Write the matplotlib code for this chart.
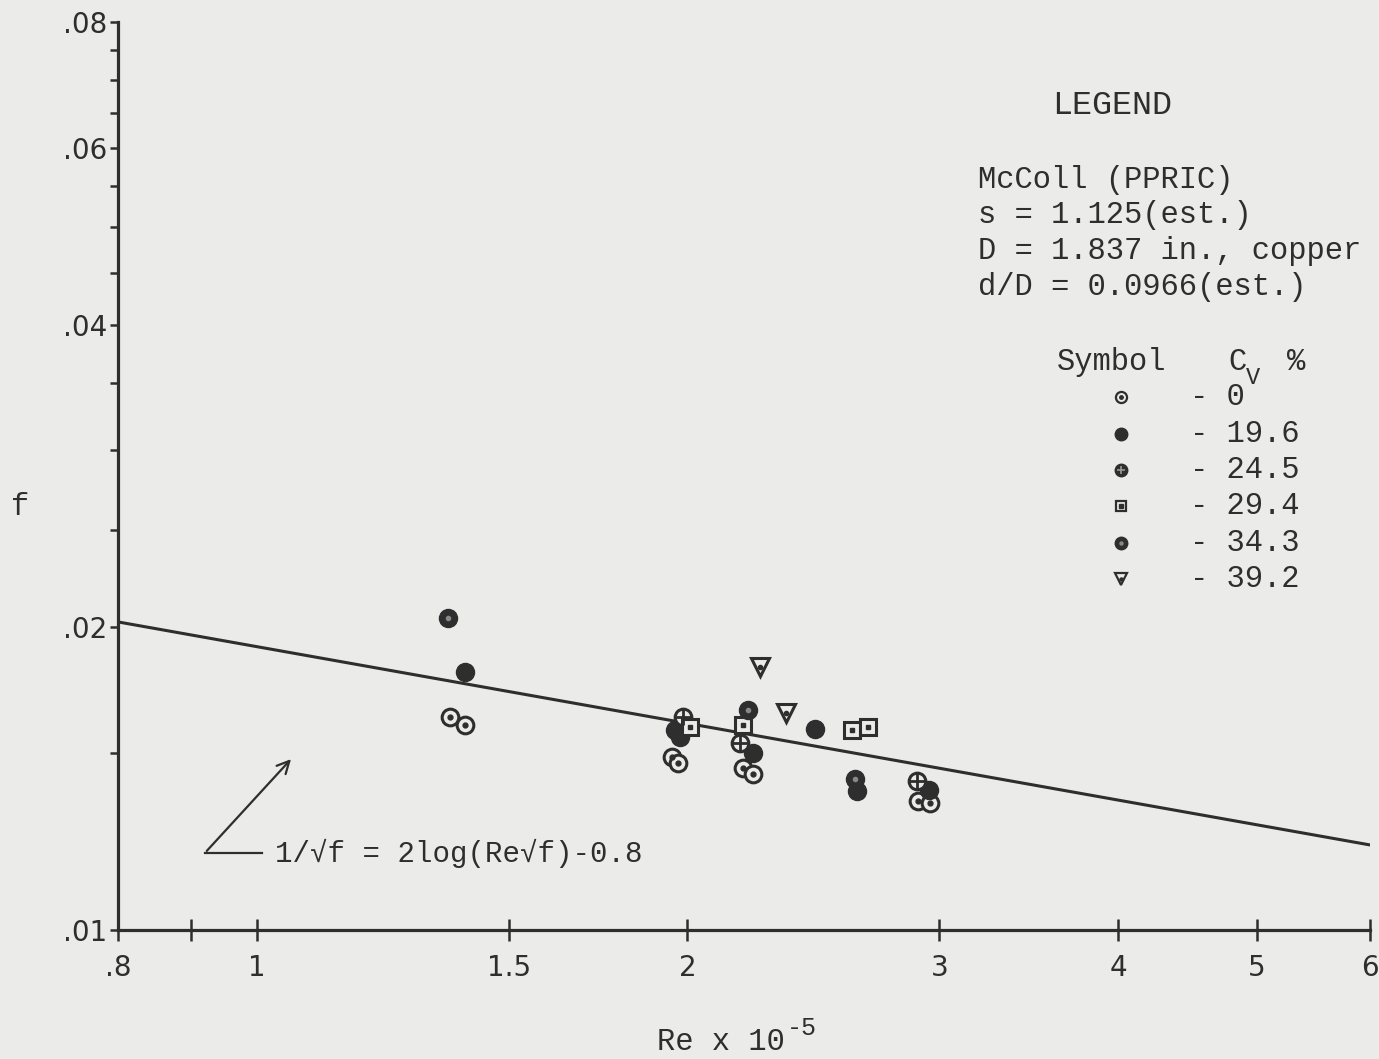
import matplotlib.pyplot as plt
from matplotlib.ticker import NullLocator

# Re x 10^-5 and f, one pair of lists per Cv %
re_0 = [1.365, 1.398, 1.951, 1.970, 2.188, 2.223, 2.899, 2.955]
f_0 = [0.01629, 0.01600, 0.01486, 0.01466, 0.01449, 0.01430, 0.01344, 0.01338]
re_196 = [1.398, 1.961, 1.977, 2.223, 2.456, 2.627, 2.950]
f_196 = [0.01806, 0.01581, 0.01556, 0.01500, 0.01585, 0.01375, 0.01378]
re_245 = [1.986, 2.177, 2.893]
f_245 = [0.01629, 0.01535, 0.01407]
re_294 = [2.009, 2.188, 2.606, 2.674]
f_294 = [0.01592, 0.01600, 0.01581, 0.01592]
re_343 = [1.360, 2.206, 2.619]
f_343 = [0.02044, 0.01656, 0.01413]
re_392 = [2.248, 2.344]
f_392 = [0.01826, 0.01644]

# correlation line 1/sqrt(f) = 2log(Re sqrt(f)) - 0.8
line_re = [0.8, 6.0]
line_f = [0.02025, 0.01215]

xticks = [0.8, 0.9, 1, 1.5, 2, 3, 4, 5, 6]
xlabels = ['.8', '', '1', '1.5', '2', '3', '4', '5', '6']
yticks = [0.01, 0.015, 0.02, 0.025, 0.03, 0.035, 0.04, 0.045, 0.05,
          0.055, 0.06, 0.065, 0.07, 0.075, 0.08]
ylabels = ['.01', '', '.02', '', '', '', '.04', '', '', '', '.06', '', '', '', '.08']

cv_labels = ['0', '19.6', '24.5', '29.4', '34.3', '39.2']

ink = '#2e2e2e'
bg = '#ebebea'
mono = ['Liberation Mono', 'DejaVu Sans Mono']

fig = plt.figure(figsize=(13.79, 10.59), dpi=100, facecolor=bg)
ax = fig.add_axes([0.0856, 0.1218, 0.9080, 0.8574])
ax.set_facecolor(bg)
ax.set_xscale('log')
ax.set_yscale('log')
ax.set_xlim(0.8, 6)
ax.set_ylim(0.01, 0.08)

for s in ['top', 'right']:
    ax.spines[s].set_visible(False)
for s in ['left', 'bottom']:
    ax.spines[s].set_linewidth(2.3)
    ax.spines[s].set_color(ink)

ax.xaxis.set_minor_locator(NullLocator())
ax.yaxis.set_minor_locator(NullLocator())
ax.set_xticks(xticks)
ax.set_xticklabels(xlabels)
ax.set_yticks(yticks)
ax.set_yticklabels(ylabels)
ax.tick_params(axis='x', direction='inout', length=16, width=1.8, color=ink,
               labelsize=20, labelcolor=ink, pad=9)
ax.tick_params(axis='y', direction='out', length=6, width=1.8, color=ink,
               labelsize=20, labelcolor=ink, pad=2)

ax.plot(line_re, line_f, color=ink, lw=2.2, zorder=2)

ms = 12
ew = 2.2
# Cv = 0 : open circle with centre dot
ax.plot(re_0, f_0, 'o', ms=ms, mfc=bg, mec=ink, mew=ew, ls='none', zorder=3)
ax.plot(re_0, f_0, 'o', ms=3.5, color=ink, ls='none', zorder=4)
# Cv = 19.6 : solid circle
ax.plot(re_196, f_196, 'o', ms=ms + 1, color=ink, ls='none', zorder=3)
# Cv = 24.5 : circle with cross
ax.plot(re_245, f_245, 'o', ms=ms, mfc=bg, mec=ink, mew=ew, ls='none', zorder=3)
ax.plot(re_245, f_245, '+', ms=ms - 1, mec=ink, mew=2.0, ls='none', zorder=4)
# Cv = 29.4 : square with centre dot
ax.plot(re_294, f_294, 's', ms=ms - 1, mfc=bg, mec=ink, mew=ew, ls='none', zorder=3)
ax.plot(re_294, f_294, 's', ms=3, color=ink, ls='none', zorder=4)
# Cv = 34.3 : solid circle with light dot
ax.plot(re_343, f_343, 'o', ms=ms + 1, color=ink, ls='none', zorder=3)
ax.plot(re_343, f_343, 'o', ms=3, color='#888888', ls='none', zorder=4)
# Cv = 39.2 : triangle with centre dot
ax.plot(re_392, f_392, 'v', ms=ms + 1, mfc=bg, mec=ink, mew=ew, ls='none', zorder=3)
ax.plot(re_392, f_392, 'o', ms=3, color=ink, ls='none', zorder=4)

# arrow to the correlation line
ax.annotate('', xy=(1.060, 0.01486), xytext=(0.920, 0.01193),
            arrowprops=dict(arrowstyle='->', color=ink, lw=1.6,
                            mutation_scale=22))
ax.plot([0.920, 1.009], [0.01193, 0.01193], color=ink, lw=1.6, zorder=2)
ax.text(1.030, 0.01193, '1/√f = 2log(Re√f)-0.8', family=mono, fontsize=21,
        color=ink, va='center', ha='left')

# axis labels
fig.text(20 / 1379, 1 - 507 / 1059, 'f', family=mono, fontsize=22,
         color=ink, va='center', ha='center')
fig.text(785 / 1379, 1 - 1042 / 1059, 'Re x 10', family=mono, fontsize=22,
         color=ink, va='center', ha='right')
fig.text(787 / 1379, 1 - 1028 / 1059, '-5', family=mono, fontsize=18,
         color=ink, va='center', ha='left')

# legend block
fig.text(1112 / 1379, 1 - 105 / 1059, 'LEGEND', family=mono, fontsize=24,
         color=ink, va='center', ha='center')
info = ['McColl (PPRIC)', 's = 1.125(est.)', 'D = 1.837 in., copper',
        'd/D = 0.0966(est.)']
for i, t in enumerate(info):
    fig.text(978 / 1379, 1 - (180 + 35.5 * i) / 1059, t, family=mono,
             fontsize=22, color=ink, va='center', ha='left')

fig.text(1057 / 1379, 1 - 362 / 1059, 'Symbol', family=mono, fontsize=22,
         color=ink, va='center', ha='left')
fig.text(1228 / 1379, 1 - 362 / 1059, 'C', family=mono, fontsize=22,
         color=ink, va='center', ha='left')
fig.text(1246 / 1379, 1 - 377 / 1059, 'V', family=mono, fontsize=17,
         color=ink, va='center', ha='left')
fig.text(1287 / 1379, 1 - 362 / 1059, '%', family=mono, fontsize=22,
         color=ink, va='center', ha='left')

row_y = [397, 434, 470, 506, 543, 579]
lx = 1121 / 1379
tr = fig.transFigure
sm = 8
for i, lab in enumerate(cv_labels):
    yy = 1 - row_y[i] / 1059
    fig.text(1190 / 1379, yy, '- ' + lab, family=mono, fontsize=22,
             color=ink, va='center', ha='left')
    if i == 0:
        ax.plot([lx], [yy], 'o', ms=sm, mfc=bg, mec=ink, mew=1.6, transform=tr, clip_on=False)
        ax.plot([lx], [yy], 'o', ms=2.5, color=ink, transform=tr, clip_on=False)
    elif i == 1:
        ax.plot([lx], [yy], 'o', ms=sm + 1, color=ink, transform=tr, clip_on=False)
    elif i == 2:
        ax.plot([lx], [yy], 'o', ms=sm + 1, color=ink, transform=tr, clip_on=False)
        ax.plot([lx], [yy], '+', ms=sm - 2, mec='#999999', mew=1.2, transform=tr, clip_on=False)
    elif i == 3:
        ax.plot([lx], [yy], 's', ms=sm - 1, mfc=bg, mec=ink, mew=1.6, transform=tr, clip_on=False)
        ax.plot([lx], [yy], 's', ms=2.2, color=ink, transform=tr, clip_on=False)
    elif i == 4:
        ax.plot([lx], [yy], 'o', ms=sm + 1, color=ink, transform=tr, clip_on=False)
        ax.plot([lx], [yy], 'o', ms=2.2, color='#888888', transform=tr, clip_on=False)
    else:
        ax.plot([lx], [yy], 'v', ms=sm + 1, mfc=bg, mec=ink, mew=1.6, transform=tr, clip_on=False)
        ax.plot([lx], [yy], 'o', ms=2.2, color=ink, transform=tr, clip_on=False)

fig.savefig('out.png', dpi=100, facecolor=bg)
